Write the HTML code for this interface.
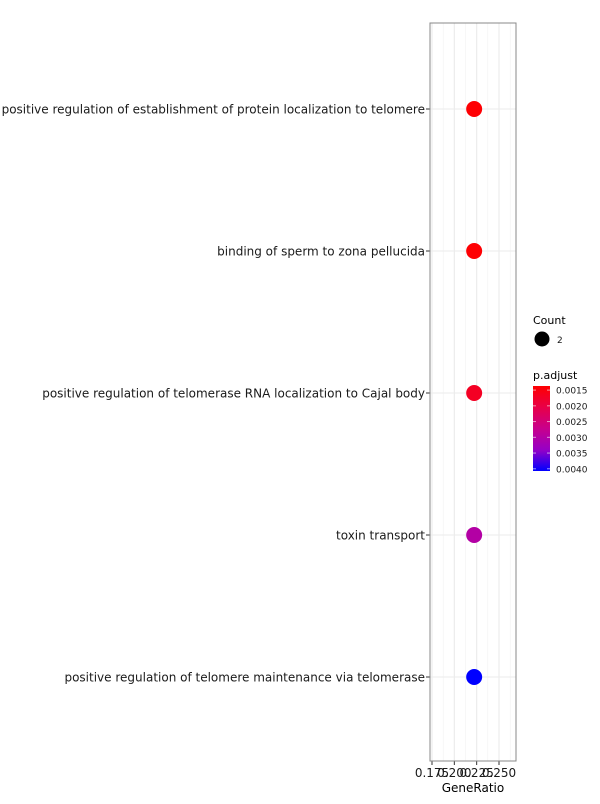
<!DOCTYPE html>
<html><head><meta charset="utf-8"><style>
body{margin:0;background:#fff;font-family:"DejaVu Sans","Liberation Sans",sans-serif}
svg text{font-family:"DejaVu Sans","Liberation Sans",sans-serif}
</style></head><body>
<svg id="c" width="600" height="800" xmlns="http://www.w3.org/2000/svg"></svg>
<script>
const terms=["positive regulation of establishment of protein localization to telomere","binding of sperm to zona pellucida","positive regulation of telomerase RNA localization to Cajal body","toxin transport","positive regulation of telomere maintenance via telomerase"];
const geneRatio=[0.2222,0.2222,0.2222,0.2222,0.2222];
const padj=[0.0014,0.0014,0.0017,0.0030,0.0041];
const xTicks=[0.175,0.2,0.225,0.25];
const xTickLabels=["0.175","0.200","0.225","0.250"];
const cTicks=[0.0015,0.002,0.0025,0.003,0.0035,0.004];
const cTickLabels=["0.0015","0.0020","0.0025","0.0030","0.0035","0.0040"];
const NS="http://www.w3.org/2000/svg",svg=document.getElementById('c');
function el(t,a,p){const e=document.createElementNS(NS,t);for(const k in a)e.setAttribute(k,a[k]);(p||svg).appendChild(e);return e;}
const L=430,R=516,T=23,B=761;
const x=v=>432+(v-0.175)*(67/0.075);
const y=i=>109+i*142;
const cMin=0.00137,cMax=0.00407;
const stops=[[255,0,0],[232,0,72],[200,0,140],[150,0,198],[0,0,255]];
function col(v){let t=(v-cMin)/(cMax-cMin);t=Math.max(0,Math.min(1,t));const s=t*4,i=Math.min(3,Math.floor(s)),f=s-i;const a=stops[i],b=stops[i+1];return `rgb(${Math.round(a[0]+(b[0]-a[0])*f)},${Math.round(a[1]+(b[1]-a[1])*f)},${Math.round(a[2]+(b[2]-a[2])*f)})`;}
const bg=el('rect',{x:L,y:T,width:R-L,height:B-T,fill:'#fff'});

for(let i=0;i<xTicks.length-1;i++){const m=(xTicks[i]+xTicks[i+1])/2;el('line',{x1:x(m),x2:x(m),y1:T,y2:B,stroke:'#f2f2f2','stroke-width':0.6});}
{const m=xTicks[xTicks.length-1]+0.0125;if(x(m)<R)el('line',{x1:x(m),x2:x(m),y1:T,y2:B,stroke:'#f2f2f2','stroke-width':0.6});}
xTicks.forEach((v,i)=>{
 const g=el('line',{x1:x(v),x2:x(v),y1:T,y2:B,stroke:'#ebebeb','stroke-width':1.1});
 
 el('line',{x1:x(v),x2:x(v),y1:B,y2:B+4,stroke:'#333'});
 const t=el('text',{x:x(v),y:B+16,'text-anchor':'middle','font-size':12,fill:'#1a1a1a'});t.textContent=xTickLabels[i];
 
});
terms.forEach((s,i)=>{
 el('line',{x1:L,x2:R,y1:y(i),y2:y(i),stroke:'#ebebeb','stroke-width':1.1});
 el('line',{x1:L-4,x2:L,y1:y(i),y2:y(i),stroke:'#333'});
 const t=el('text',{x:L-5,y:y(i)+4.5,'text-anchor':'end','font-size':12,fill:'#1a1a1a'});t.textContent=s;
 
});
terms.forEach((s,i)=>{
 const c=el('circle',{cx:x(geneRatio[i]),cy:y(i),r:8,fill:col(padj[i])});
 
});
el('rect',{x:L,y:T,width:R-L,height:B-T,fill:'none',stroke:'#888','stroke-width':1});
const xt=el('text',{x:(L+R)/2,y:792,'text-anchor':'middle','font-size':12,fill:'#000'});xt.textContent='GeneRatio';

const lc=el('text',{x:533,y:324,'font-size':11,fill:'#000'});lc.textContent='Count';

const ld=el('circle',{cx:542,cy:339,r:7.5,fill:'#000'});

const l2=el('text',{x:557,y:343,'font-size':9,fill:'#1a1a1a'});l2.textContent='2';
const lp=el('text',{x:533,y:379,'font-size':11,fill:'#000'});lp.textContent='p.adjust';

const defs=el('defs',{});const gr=el('linearGradient',{id:'g',x1:0,y1:0,x2:0,y2:1},defs);
stops.forEach((s,i)=>el('stop',{offset:i/4,'stop-color':`rgb(${s[0]},${s[1]},${s[2]})`},gr));
const cb=el('rect',{x:533,y:386,width:17,height:85,fill:'url(#g)'});

const cy=v=>386+(v-cMin)/(cMax-cMin)*85;
cTicks.forEach((v,i)=>{
 el('line',{x1:533,x2:536,y1:cy(v),y2:cy(v),stroke:'#fff','stroke-opacity':0.6});
 el('line',{x1:547,x2:550,y1:cy(v),y2:cy(v),stroke:'#fff','stroke-opacity':0.6});
 const t=el('text',{x:556,y:cy(v)+3.5,'font-size':9,fill:'#1a1a1a'});t.textContent=cTickLabels[i];
 
});
</script>
</body></html>
